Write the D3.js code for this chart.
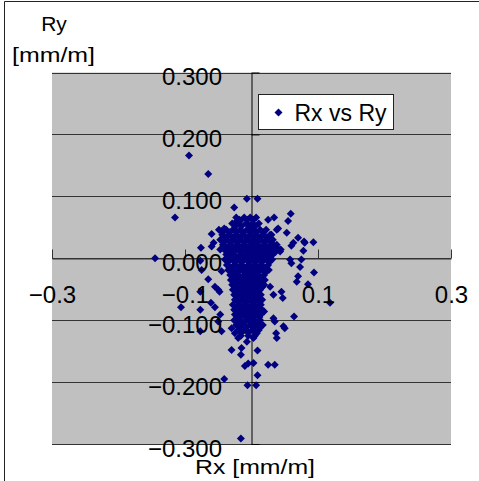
<!DOCTYPE html>
<html>
<head>
<meta charset="utf-8">
<script src="https://cdn.jsdelivr.net/npm/d3@7"></script>
<style>
body { margin: 0; background: #fff; }
svg { display: block; font-family: "Liberation Sans", Arial, sans-serif; }
</style>
</head>
<body>
<svg id="chart" width="479" height="481"></svg>
<script>
// Rx / Ry pairs [mm/m]
var rx = [
-0.094,-0.065,-0.115,-0.026,-0.025,-0.041,-0.007,0.009,0.059,0.034,0.025,0.040,-0.145,-0.060,-0.077,-0.065,
-0.106,-0.077,-0.077,-0.045,-0.061,-0.055,-0.050,0.093,0.080,0.078,0.070,0.063,0.094,0.073,0.070,0.118,
0.064,0.048,0.037,0.047,0.033,0.028,0.053,0.055,0.038,0.030,0.044,0.058,-0.017,-0.022,-0.042,-0.057,
-0.047,-0.055,-0.048,-0.076,-0.060,-0.075,-0.077,-0.050,-0.047,-0.045,0.079,0.060,0.043,0.075,0.060,0.068,
0.085,0.045,0.033,0.019,-0.030,-0.015,-0.016,0.009,-0.005,0.003,-0.010,0.009,0.025,0.035,-0.041,-0.006,
0.007,-0.016,0.038,0.050,0.035,-0.025,-0.020,-0.007,0.003,0.008,-0.030,
// dense core
-0.023,-0.011,-0.002,0.007,
-0.029,-0.020,-0.008,0.001,0.011,
-0.049,-0.038,-0.028,-0.017,-0.007,0.002,0.013,0.022,
-0.044,-0.034,-0.023,-0.013,-0.002,0.007,0.017,0.028,
-0.047,-0.037,-0.026,-0.016,-0.005,0.004,0.014,0.025,0.032,
-0.043,-0.032,-0.022,-0.011,-0.001,0.008,0.019,0.029,0.038,
-0.041,-0.031,-0.020,-0.010,0.001,0.010,0.020,0.031,0.041,
-0.038,-0.028,-0.017,-0.007,0.002,0.013,0.022,0.032,
-0.040,-0.029,-0.019,-0.008,0.001,0.011,0.022,0.031,
-0.037,-0.026,-0.016,-0.005,0.005,0.014,0.025,
-0.035,-0.025,-0.014,-0.004,0.005,0.016,0.026,
-0.032,-0.022,-0.011,-0.002,0.008,0.019,
-0.031,-0.020,-0.010,-0.001,0.010,0.020,
-0.029,-0.019,-0.008,0.001,0.011,0.019,
-0.028,-0.017,-0.007,0.002,0.013,
-0.026,-0.016,-0.005,0.005,0.014,
-0.025,-0.014,-0.004,0.007,0.016,
-0.028,-0.017,-0.007,0.004,0.014,
-0.026,-0.016,-0.005,0.005,0.016,
-0.025,-0.014,-0.004,0.007,0.014,
-0.026,-0.016,-0.005,0.005,0.013,
-0.023,-0.013,-0.002,0.008,0.017,
-0.020,-0.010,0.001,0.011,
-0.016,-0.005,0.005,
// core, in-between rows
-0.018,-0.006,0.003,
-0.024,-0.015,-0.003,0.006,
-0.044,-0.033,-0.023,-0.012,-0.002,0.007,0.018,
-0.039,-0.029,-0.018,-0.008,0.003,0.012,0.022,
-0.042,-0.032,-0.021,-0.011,0.000,0.009,0.019,0.030,
-0.038,-0.027,-0.017,-0.006,0.004,0.013,0.024,0.034,
-0.036,-0.026,-0.015,-0.005,0.006,0.015,0.025,0.036,
-0.033,-0.023,-0.012,-0.002,0.007,0.018,0.027,
-0.035,-0.024,-0.014,-0.003,0.006,0.016,0.027,
-0.032,-0.021,-0.011,0.000,0.010,0.019,
-0.030,-0.020,-0.009,0.001,0.010,0.021,
-0.027,-0.017,-0.006,0.003,0.013,
-0.026,-0.015,-0.005,0.004,0.015,
-0.024,-0.014,-0.003,0.006,0.016,
-0.023,-0.012,-0.002,0.007,
-0.021,-0.011,0.000,0.010,
-0.020,-0.009,0.001,0.012,
-0.023,-0.012,-0.002,0.009,
-0.021,-0.011,0.000,0.010,
-0.020,-0.009,0.001,0.012,
-0.021,-0.011,0.000,0.010,
-0.018,-0.008,0.003,0.013,
-0.015,-0.005,0.006
];
var ry = [
0.166,0.136,0.066,0.082,0.057,0.048,0.096,0.096,0.072,0.066,0.062,0.048,0.000,0.039,-0.004,-0.034,
-0.079,-0.083,-0.118,-0.118,-0.072,-0.079,-0.102,0.026,0.025,0.012,0.033,0.025,-0.023,-0.014,-0.029,-0.072,
-0.094,-0.110,-0.121,-0.064,-0.059,-0.046,0.041,0.060,0.046,0.038,0.014,-0.002,0.060,0.043,0.046,0.025,
0.014,-0.046,-0.054,0.017,0.019,-0.019,-0.054,-0.051,-0.091,-0.021,0.027,0.020,0.011,-0.002,-0.008,-0.038,
-0.042,-0.054,-0.097,-0.086,-0.148,-0.145,-0.156,-0.149,-0.170,-0.169,-0.174,-0.189,-0.172,-0.172,-0.195,-0.205,
-0.205,-0.291,-0.129,-0.113,-0.102,-0.121,-0.129,-0.135,-0.129,-0.121,-0.113,
// dense core
0.066,0.066,0.066,0.066,
0.056,0.056,0.056,0.056,0.056,
0.046,0.046,0.046,0.046,0.046,0.046,0.046,0.046,
0.038,0.038,0.038,0.038,0.038,0.038,0.038,0.038,
0.030,0.030,0.030,0.030,0.030,0.030,0.030,0.030,0.030,
0.022,0.022,0.022,0.022,0.022,0.022,0.022,0.022,0.022,
0.014,0.014,0.014,0.014,0.014,0.014,0.014,0.014,0.014,
0.006,0.006,0.006,0.006,0.006,0.006,0.006,0.006,
-0.002,-0.002,-0.002,-0.002,-0.002,-0.002,-0.002,-0.002,
-0.011,-0.011,-0.011,-0.011,-0.011,-0.011,-0.011,
-0.019,-0.019,-0.019,-0.019,-0.019,-0.019,-0.019,
-0.027,-0.027,-0.027,-0.027,-0.027,-0.027,
-0.035,-0.035,-0.035,-0.035,-0.035,-0.035,
-0.043,-0.043,-0.043,-0.043,-0.043,-0.043,
-0.051,-0.051,-0.051,-0.051,-0.051,
-0.059,-0.059,-0.059,-0.059,-0.059,
-0.067,-0.067,-0.067,-0.067,-0.067,
-0.075,-0.075,-0.075,-0.075,-0.075,
-0.083,-0.083,-0.083,-0.083,-0.083,
-0.091,-0.091,-0.091,-0.091,-0.091,
-0.100,-0.100,-0.100,-0.100,-0.100,
-0.108,-0.108,-0.108,-0.108,-0.108,
-0.116,-0.116,-0.116,-0.116,
-0.125,-0.125,-0.125,
// core, in-between rows
0.062,0.062,0.062,
0.052,0.052,0.052,0.052,
0.042,0.042,0.042,0.042,0.042,0.042,0.042,
0.034,0.034,0.034,0.034,0.034,0.034,0.034,
0.026,0.026,0.026,0.026,0.026,0.026,0.026,0.026,
0.018,0.018,0.018,0.018,0.018,0.018,0.018,0.018,
0.010,0.010,0.010,0.010,0.010,0.010,0.010,0.010,
0.002,0.002,0.002,0.002,0.002,0.002,0.002,
-0.006,-0.006,-0.006,-0.006,-0.006,-0.006,-0.006,
-0.015,-0.015,-0.015,-0.015,-0.015,-0.015,
-0.023,-0.023,-0.023,-0.023,-0.023,-0.023,
-0.031,-0.031,-0.031,-0.031,-0.031,
-0.039,-0.039,-0.039,-0.039,-0.039,
-0.047,-0.047,-0.047,-0.047,-0.047,
-0.055,-0.055,-0.055,-0.055,
-0.063,-0.063,-0.063,-0.063,
-0.071,-0.071,-0.071,-0.071,
-0.079,-0.079,-0.079,-0.079,
-0.087,-0.087,-0.087,-0.087,
-0.095,-0.095,-0.095,-0.095,
-0.104,-0.104,-0.104,-0.104,
-0.112,-0.112,-0.112,-0.112,
-0.120,-0.120,-0.120
];
var xTicks = [-0.3, -0.1, 0.1, 0.3];
var yTicks = [-0.3, -0.2, -0.1, 0, 0.1, 0.2, 0.3];
var seriesName = "Rx vs Ry";

var svg = d3.select("#chart");
var plot = {left: 52, right: 451, top: 72.5, bottom: 444};

var x = d3.scaleLinear().domain([-0.3, 0.3]).range([plot.left, plot.right]);
var y = d3.scaleLinear().domain([-0.3, 0.3]).range([plot.bottom, plot.top]);

// chart frame (only top and left edges fall inside the picture)
svg.append("path")
  .attr("d", "M4.5,481V1.5H479")
  .attr("fill", "none")
  .attr("stroke", "#222");

// grey plot area
svg.append("rect")
  .attr("x", plot.left)
  .attr("y", plot.top)
  .attr("width", plot.right - plot.left)
  .attr("height", plot.bottom - plot.top)
  .attr("fill", "#c0c0c0");

// horizontal gridlines
svg.append("g")
  .selectAll("line")
  .data(yTicks)
  .enter().append("line")
  .attr("x1", plot.left)
  .attr("x2", plot.right)
  .attr("y1", function(d) { return Math.round(y(d)) + 0.5; })
  .attr("y2", function(d) { return Math.round(y(d)) + 0.5; })
  .attr("stroke", "#333");

var x0 = Math.round(x(0)) - 0.5, y0 = Math.round(y(0)) + 0.5;

// x axis (ticks point up, labels moved well below)
var xAxis = d3.axisTop(x).tickValues(xTicks).tickSize(9).tickSizeOuter(0)
  .tickFormat(d3.format(".1f"));
var yAxis = d3.axisRight(y).tickValues(yTicks).tickSize(8).tickSizeOuter(0)
  .tickFormat(d3.format(".3f"));

var gx = svg.append("g")
  .attr("transform", "translate(0," + y0 + ")")
  .call(xAxis);
gx.selectAll("text").remove();
gx.select(".domain").attr("stroke", "#333");
gx.selectAll(".tick line").attr("stroke", "#333");

var gy = svg.append("g")
  .attr("transform", "translate(" + x0 + ",0)")
  .call(yAxis);
gy.selectAll("text").remove();
gy.select(".domain").attr("stroke", "#000");

// points
var pts = rx.map(function(d, i) { return {rx: d, ry: ry[i]}; });
var diamond = "M0,-4L4,0L0,4L-4,0Z";
svg.append("g")
  .selectAll("path")
  .data(pts)
  .enter().append("path")
  .attr("d", diamond)
  .attr("transform", function(d) { return "translate(" + x(d.rx) + "," + y(d.ry) + ")"; })
  .attr("fill", "#000080");

// tick labels on top of the points
var lx = svg.append("g")
  .attr("transform", "translate(0," + y0 + ")")
  .call(xAxis);
lx.selectAll("line, path").remove();
lx.selectAll("text")
  .attr("y", 44.5)
  .attr("dy", null)
  .attr("fill", "#000")
  .attr("font-size", 24)
  .attr("font-family", "Liberation Sans, Arial, sans-serif");

var ly = svg.append("g")
  .attr("transform", "translate(" + x0 + ",0)")
  .call(yAxis);
ly.selectAll("line, path").remove();
ly.selectAll("text")
  .attr("x", -29.5)
  .attr("y", 12)
  .attr("dy", null)
  .attr("text-anchor", "end")
  .attr("fill", "#000")
  .attr("font-size", 24)
  .attr("font-family", "Liberation Sans, Arial, sans-serif");

// axis titles
svg.append("text")
  .attr("x", 54).attr("y", 31)
  .attr("text-anchor", "middle")
  .attr("font-size", 21)
  .text("Ry");
svg.append("text")
  .attr("x", 12).attr("y", 62)
  .attr("font-size", 21)
  .attr("textLength", 83)
  .attr("lengthAdjust", "spacingAndGlyphs")
  .text("[mm/m]");
svg.append("text")
  .attr("x", 195).attr("y", 474)
  .attr("font-size", 20)
  .attr("textLength", 120)
  .attr("lengthAdjust", "spacingAndGlyphs")
  .text("Rx [mm/m]");

// legend
var legend = svg.append("g").attr("transform", "translate(258.5,94.5)");
legend.append("rect")
  .attr("width", 135)
  .attr("height", 35)
  .attr("fill", "#fff")
  .attr("stroke", "#222");
legend.append("path")
  .attr("d", diamond)
  .attr("transform", "translate(20,18)")
  .attr("fill", "#000080");
legend.append("text")
  .attr("x", 36)
  .attr("y", 26)
  .attr("font-size", 23)
  .text(seriesName);
</script>
</body>
</html>
